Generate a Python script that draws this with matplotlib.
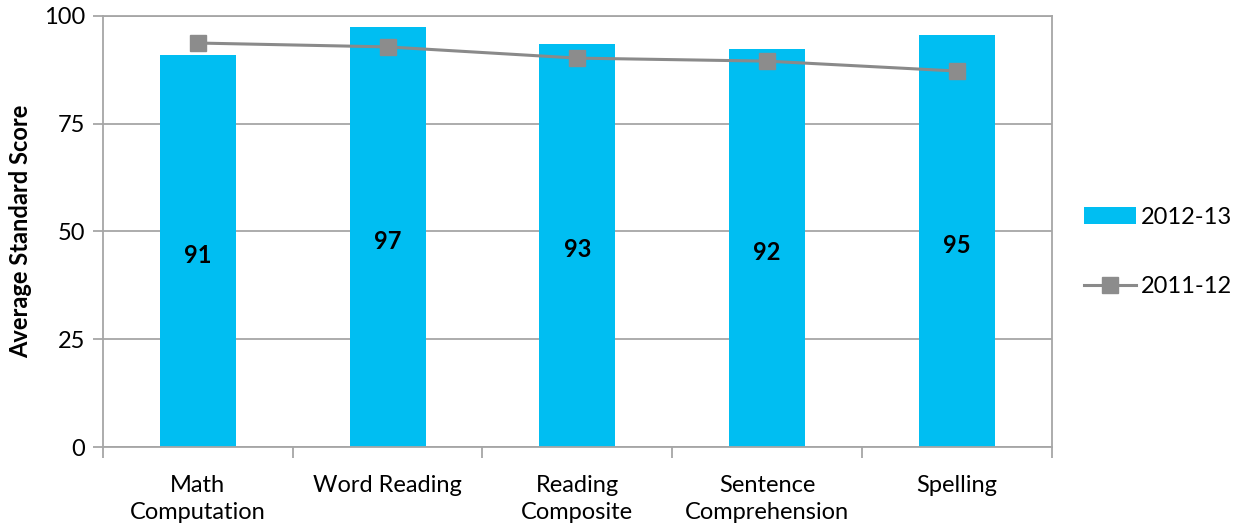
import numpy as np
import matplotlib.pyplot as plt

# data
categories = ['Math\nComputation', 'Word Reading', 'Reading\nComposite',
              'Sentence\nComprehension', 'Spelling']
scores_2012_13 = [90.9, 97.4, 93.5, 92.2, 95.5]
labels_2012_13 = ['91', '97', '93', '92', '95']
scores_2011_12 = [93.7, 92.8, 90.2, 89.5, 87.2]
y_ticks = [0, 25, 50, 75, 100]

plt.rcParams['font.family'] = ['Lato', 'DejaVu Sans']

fig = plt.figure(figsize=(12.33, 5.29), dpi=100)
ax = fig.add_axes([0.0835, 0.155, 0.7695, 0.815])

x = np.arange(len(categories))
grey = '#A6A6A6'

bars = ax.bar(x, scores_2012_13, width=0.4, color='#00BEF2', label='2012-13', zorder=2)
line, = ax.plot(x, scores_2011_12, color='#8A8A8A', linewidth=2.2, marker='s', markersize=11,
                markerfacecolor='#8C8C8C', markeredgecolor='#8C8C8C', label='2011-12', zorder=3)

# value labels in the middle of each bar
for xi, h, lab in zip(x, scores_2012_13, labels_2012_13):
    ax.text(xi, h / 2 - 1, lab, ha='center', va='center', fontsize=17, fontweight='bold')

ax.set_xlim(-0.5, len(categories) - 0.5)
ax.set_ylim(0, 100)
ax.set_yticks(y_ticks)
ax.set_yticklabels([str(t) for t in y_ticks], fontsize=17)
ax.yaxis.grid(True, color=grey, linewidth=1.3, zorder=0)
ax.set_axisbelow(True)

ax.set_xticks(x)
ax.set_xticklabels(categories, fontsize=17, linespacing=1.35)
ax.tick_params(axis='x', length=0, pad=20)
ax.set_xticks(np.arange(-0.5, len(categories)), minor=True)
ax.tick_params(axis='x', which='minor', length=8, color=grey, width=1.3)
ax.tick_params(axis='y', length=7, color=grey, width=1.3, pad=6)

for s in ax.spines.values():
    s.set_color(grey)
    s.set_linewidth(1.3)

ax.set_ylabel('Average Standard Score', fontsize=17, fontweight='bold', labelpad=8)

fig.legend([bars, line], ['2012-13', '2011-12'], loc='center left',
           bbox_to_anchor=(0.879, 0.524), frameon=False, fontsize=17,
           borderpad=0, borderaxespad=0, handlelength=2.2, labelspacing=2.05,
           handletextpad=0.2)

fig.savefig('out.png', dpi=100)
